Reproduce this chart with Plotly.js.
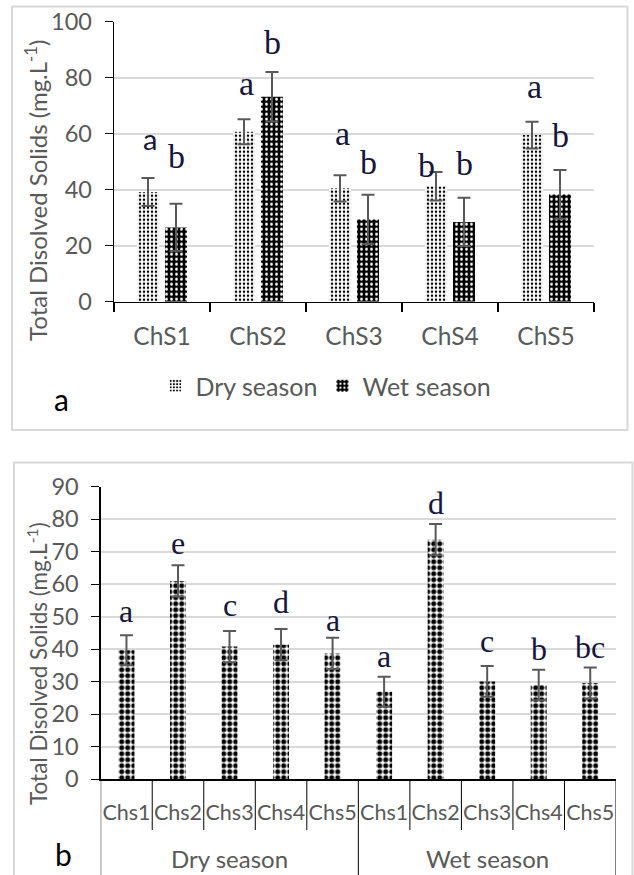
<!DOCTYPE html>
<html><head><meta charset="utf-8">
<script src="https://cdn.plot.ly/plotly-3.0.1.min.js"></script>
<style>html,body{margin:0;padding:0;background:#fff;} #chart{width:634px;height:875px;}</style>
</head><body><div id="chart"></div>
<script>
// ---------- Panel a data ----------
const sitesA = ['ChS1', 'ChS2', 'ChS3', 'ChS4', 'ChS5'];
const seriesNamesA = ['Dry season', 'Wet season'];
const dryA = [39.2, 60.7, 40.5, 41.2, 59.5];
const dryAErr = [5.0, 4.5, 4.7, 5.1, 4.8];
const wetA = [26.5, 73.2, 29.4, 28.5, 38.3];
const wetAErr = [8.5, 8.8, 8.8, 8.6, 8.7];
const dryALetters = ['a', 'a', 'a', 'b', 'a'];
const wetALetters = ['b', 'b', 'b', 'b', 'b'];
const dryALetterLevel = [54.2, 73.5, 55.6, 44.2, 72.4];
const wetALetterLevel = [47.4, 88.1, 45.3, 44.9, 54.9];

// ---------- Panel b data ----------
const sitesB = ['Chs1', 'Chs2', 'Chs3', 'Chs4', 'Chs5', 'Chs1', 'Chs2', 'Chs3', 'Chs4', 'Chs5'];
const seasonsB = ['Dry season', 'Wet season'];
const valuesB = [39.7, 61.0, 40.8, 41.4, 38.7, 26.9, 73.7, 30.1, 29.0, 29.6];
const errB = [4.6, 4.8, 4.8, 4.8, 4.8, 4.6, 4.8, 4.7, 4.7, 4.8];
const lettersB = ['a', 'e', 'c', 'd', 'a', 'a', 'd', 'c', 'b', 'bc'];
const letterLevelB = [48.1, 69.0, 50.0, 50.8, 45.4, 34.2, 81.3, 38.7, 36.4, 36.9];

const yTitle = 'Total Disolved Solids (mg.L<sup>-1</sup>)';

// ---------- helpers ----------
const W = 634, H = 875;
const px = x => x / W, py = y => 1 - y / H;
const grey = '#595959';
const gridGrey = '#d9d9d9';
const letterColor = '#16163a';
const idxB = sitesB.map((_, i) => i);
const perSeason = sitesB.length / seasonsB.length;

const errStyle = {type: 'data', visible: true, color: grey, thickness: 2, width: 6.5};

const traces = [
  {type: 'bar', name: seriesNamesA[0], x: sitesA, y: dryA, xaxis: 'x', yaxis: 'y',
   error_y: Object.assign({array: dryAErr}, errStyle),
   marker: {color: '#ffffff', line: {width: 0},
            pattern: {shape: '.', fgcolor: '#000', bgcolor: '#fff', size: 4, solidity: 0.3}}},
  {type: 'bar', name: seriesNamesA[1], x: sitesA, y: wetA, xaxis: 'x', yaxis: 'y',
   error_y: Object.assign({array: wetAErr}, errStyle),
   marker: {color: '#000000', line: {width: 0},
            pattern: {shape: '.', fgcolor: '#fff', bgcolor: '#000', size: 5, solidity: 0.25}}},
  {type: 'bar', name: 'TDS', x: idxB, y: valuesB, xaxis: 'x2', yaxis: 'y2', showlegend: false,
   width: 0.31,
   error_y: Object.assign({array: errB}, errStyle),
   marker: {color: '#000000', line: {width: 0},
            pattern: {shape: '.', fgcolor: '#000', bgcolor: '#fff', size: 6, solidity: 0.55}}}
];

const annotations = [];
sitesA.forEach((s, i) => {
  annotations.push({x: s, xref: 'x', y: dryALetterLevel[i], yref: 'y', text: dryALetters[i],
    showarrow: false, xanchor: 'center', yanchor: 'bottom', xshift: (i === 3 ? -24 : -12), yshift: -8,
    font: i === 0 ? {family: 'Lato', size: 29, color: letterColor}
                  : {family: 'Liberation Serif', size: 34, color: letterColor}});
  annotations.push({x: s, xref: 'x', y: wetALetterLevel[i], yref: 'y', text: wetALetters[i],
    showarrow: false, xanchor: 'center', yanchor: 'bottom', xshift: 14, yshift: -8,
    font: {family: 'Liberation Serif', size: 34, color: letterColor}});
});
idxB.forEach(i => {
  annotations.push({x: i, xref: 'x2', y: letterLevelB[i], yref: 'y2', text: lettersB[i],
    showarrow: false, xanchor: 'center', yanchor: 'bottom', yshift: -8,
    font: {family: 'Liberation Serif', size: 32, color: letterColor}});
});
// season group labels
seasonsB.forEach((s, k) => {
  annotations.push({x: k * perSeason + (perSeason - 1) / 2, xref: 'x2', y: py(875), yref: 'paper',
    text: s, showarrow: false, xanchor: 'center', yanchor: 'bottom',
    font: {family: 'Lato', size: 24, color: grey}});
});
// axis titles
annotations.push({x: px(36), y: py(190), xref: 'paper', yref: 'paper', text: yTitle, textangle: -90,
  showarrow: false, xanchor: 'center', yanchor: 'middle', font: {family: 'Lato', size: 24, color: grey}});
annotations.push({x: px(37), y: py(664), xref: 'paper', yref: 'paper', text: yTitle, textangle: -90,
  showarrow: false, xanchor: 'center', yanchor: 'middle', font: {family: 'Lato', size: 22.5, color: grey}});
// panel labels
annotations.push({x: px(61.5), y: py(419), xref: 'paper', yref: 'paper', text: 'a', showarrow: false,
  xanchor: 'center', yanchor: 'bottom', font: {family: 'Lato', size: 30, color: '#000'}});
annotations.push({x: px(63), y: py(874), xref: 'paper', yref: 'paper', text: 'b', showarrow: false,
  xanchor: 'center', yanchor: 'bottom', font: {family: 'Lato', size: 30, color: '#000'}});

const shapes = [
  {type: 'rect', xref: 'paper', yref: 'paper', x0: px(12), x1: px(627.5), y0: py(430), y1: py(6.5),
   line: {color: gridGrey, width: 2}},
  {type: 'rect', xref: 'paper', yref: 'paper', x0: px(14), x1: px(632.5), y0: -0.02, y1: py(462.5),
   line: {color: gridGrey, width: 2}}
];
for (let k = 0; k <= sitesB.length; k++) {
  const isGroupEdge = (k % perSeason === 0);
  shapes.push({type: 'line', xref: 'x2', yref: 'paper', x0: k - 0.5, x1: k - 0.5,
    y0: py(779.2), y1: isGroupEdge ? 0 : py(830), line: {color: '#000', width: 1}});
}

const yBase = {ticks: 'outside', ticklen: 8, tickwidth: 1.3, tickcolor: '#000', showline: true,
  linecolor: '#000', linewidth: 1.3, showgrid: true, gridcolor: gridGrey, gridwidth: 2,
  zeroline: false, tickfont: {family: 'Lato', size: 23.5, color: grey}, ticklabelstandoff: 8, fixedrange: true};

const layout = {
  width: W, height: H, margin: {l: 0, r: 0, t: 0, b: 0},
  paper_bgcolor: '#fff', plot_bgcolor: 'rgba(0,0,0,0)',
  barmode: 'group', bargap: 0.417, bargroupgap: 0.214,
  font: {family: 'Lato', color: grey},
  showlegend: true,
  legend: {orientation: 'h', x: px(326), xanchor: 'center', y: py(386), yanchor: 'middle',
    font: {family: 'Lato', size: 25, color: grey}, itemwidth: 30, bgcolor: 'rgba(0,0,0,0)'},
  xaxis: {domain: [px(114), px(594)], anchor: 'y', type: 'category', tickson: 'boundaries',
    ticks: 'outside', ticklen: 9, tickwidth: 1.3, tickcolor: '#000', showline: true, linecolor: '#000',
    linewidth: 1.3, tickfont: {family: 'Lato', size: 24.5, color: grey}, ticklabelstandoff: 13,
    showgrid: false, fixedrange: true},
  yaxis: Object.assign({domain: [py(301.7), py(21.7)], anchor: 'x', range: [0, 100], dtick: 20}, yBase),
  xaxis2: {domain: [px(100.7), px(616)], anchor: 'y2', range: [-0.5, 9.5], tickmode: 'array',
    tickvals: idxB, ticktext: sitesB, ticks: '', tickangle: 0, showline: true, linecolor: '#000', linewidth: 1.3,
    tickfont: {family: 'Lato', size: 21.5, color: grey}, ticklabelstandoff: 14, showgrid: false,
    zeroline: false, fixedrange: true},
  yaxis2: Object.assign({domain: [py(779.2), py(486.7)], anchor: 'x2', range: [0, 90], dtick: 10}, yBase),
  annotations: annotations,
  shapes: shapes
};

Plotly.newPlot('chart', traces, layout, {displayModeBar: false, staticPlot: true});
</script>
</body></html>
